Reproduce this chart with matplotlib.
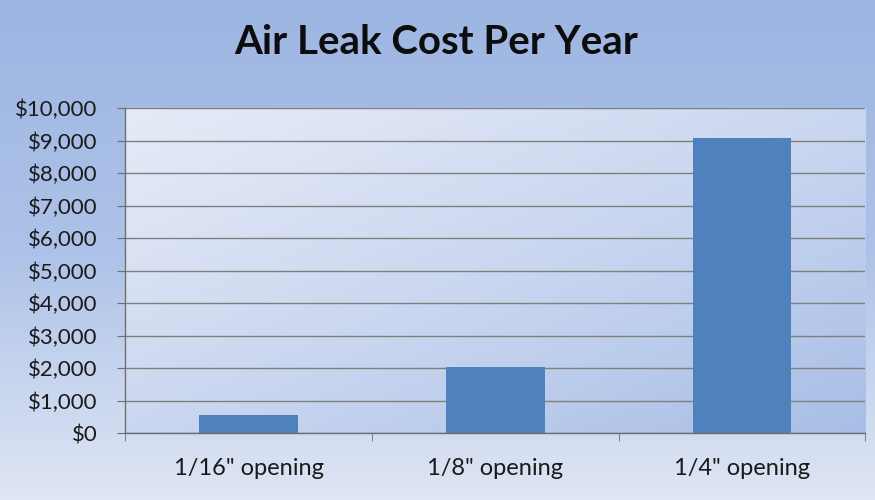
import matplotlib
matplotlib.use("Agg")
import matplotlib.pyplot as plt
import numpy as np
from matplotlib.colors import LinearSegmentedColormap
from matplotlib.ticker import FuncFormatter, FixedLocator

# 数据
categories = ['1/16" opening', '1/8" opening', '1/4" opening']
costs = [560, 2020, 9070]
y_ticks = list(range(0, 10001, 1000))

plt.rcParams['font.family'] = ['Lato', 'DejaVu Sans']

fig = plt.figure(figsize=(8.75, 5), dpi=100)

# 外部背景渐变（上蓝下浅）
bg = fig.add_axes([0, 0, 1, 1], zorder=-10)
bg_cmap = LinearSegmentedColormap.from_list("bg", ["#9db6e2", "#adc2e8", "#dfe6f4"])
gx, gy = np.meshgrid(np.linspace(0, 1, 200), np.linspace(0, 1, 200))
bg.imshow(gy, cmap=bg_cmap, extent=[0, 1, 0, 1], aspect="auto", origin="upper")
bg.axis("off")

ax = fig.add_axes([0.143, 0.134, 0.846, 0.65])
x = np.arange(len(categories))

# 绘图区渐变（左上浅，右下蓝）
pa_cmap = LinearSegmentedColormap.from_list("pa", ["#e6ebf7", "#cbd7f0", "#a8bee6"])
ax.imshow(0.5 * gy[::-1] + 0.5 * gx, cmap=pa_cmap, extent=[-0.5, 2.5, 0, 10000],
          aspect="auto", origin="lower", zorder=0)

ax.bar(x, costs, width=0.4, color="#4f81bd", zorder=3)

ax.set_xlim(-0.5, 2.5)
ax.set_ylim(0, 10000)
ax.set_yticks(y_ticks)
ax.yaxis.set_major_formatter(FuncFormatter(lambda v, p: f"${int(v):,}"))
ax.grid(axis="y", color="#7f7f7f", linewidth=1.0, zorder=1)
ax.set_axisbelow(False)

ax.set_xticks(x)
ax.set_xticklabels(categories)
ax.xaxis.set_minor_locator(FixedLocator([-0.5, 0.5, 1.5, 2.5]))
ax.tick_params(axis="x", which="major", length=0, pad=18, labelsize=17, colors="#1a1a1a")
ax.tick_params(axis="x", which="minor", length=6, color="#6f6f6f", direction="out")
ax.tick_params(axis="y", length=6, color="#6f6f6f", direction="out", labelsize=16,
               labelcolor="#1a1a1a", pad=14)

for s in ["top", "right"]:
    ax.spines[s].set_visible(False)
for s in ["left", "bottom"]:
    ax.spines[s].set_color("#6f6f6f")
    ax.spines[s].set_linewidth(1.0)
    ax.spines[s].set_zorder(4)

fig.text(0.499, 0.915, "Air Leak Cost Per Year", ha="center", va="center",
         fontsize=29, fontweight="bold", color="#0d0d0d")

fig.savefig("out.png", dpi=100)
